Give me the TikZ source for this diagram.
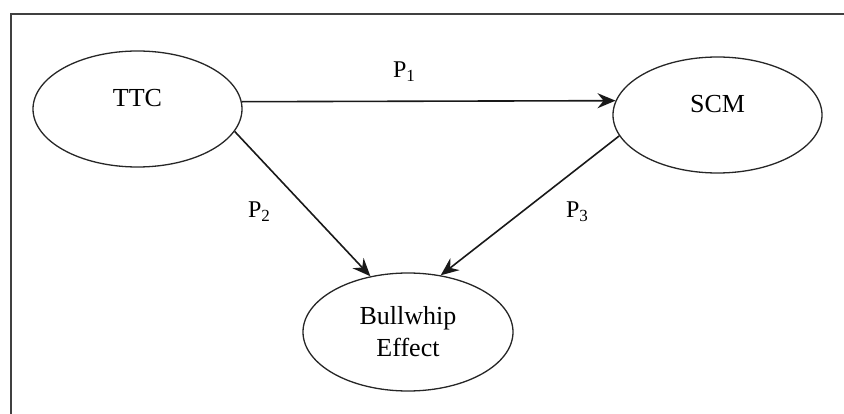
\documentclass[tikz,border=0pt]{standalone}
\usepackage{fontspec}
\setmainfont{Liberation Serif}
\newfontfamily\diagramfont{Liberation Serif}
\usetikzlibrary{shapes.geometric,arrows.meta}

\tikzset{
  construct/.style={ellipse, draw=black!85, line width=1.3pt, inner sep=0pt,
    minimum width=209pt, minimum height=116pt},
  path/.style={draw=black!90, line width=1.6pt,
    -{Stealth[length=18pt, width=15pt, inset=6pt]}},
  nodetext/.style={font=\diagramfont\fontsize{26}{32}\selectfont},
  coef/.style={inner sep=0pt, font=\diagramfont\fontsize{24}{28}\selectfont},
  frameline/.style={draw=black!75, line width=2.2pt}
}
\newcommand{\pathlabel}[1]{P\raisebox{-4pt}{\fontsize{17}{17}\selectfont #1}}

\begin{document}
\begin{tikzpicture}[x=1pt, y=-1pt, nodetext]
  \useasboundingbox (0,0) rectangle (844,414);

  % frame: only the top and left edges fall inside the page
  \draw[frameline] (11,414) -- (11,14) -- (844,14);

  % constructs
  \node[construct, label={[yshift=11pt, nodetext]center:TTC}] (ttc) at (137.5,109) {};
  \node[construct, label={[yshift=11pt, nodetext]center:SCM}] (scm) at (717.5,115) {};
  \node[construct, minimum width=210pt, minimum height=118pt, align=center]
    (bwe) at (408,332) {Bullwhip\\Effect};

  % hypothesised paths
  \draw[path] (ttc.4.4) -- (scm.172);
  \draw[path] (ttc.-13) -- (bwe.124);
  \draw[path] (scm.192) -- (bwe.60);

  % path labels
  \node[coef] (p1) at (404,72) {\pathlabel{1}};
  \node[coef] (p2) at (259,212) {\pathlabel{2}};
  \node[coef] (p3) at (577,212) {\pathlabel{3}};
\end{tikzpicture}
\end{document}
